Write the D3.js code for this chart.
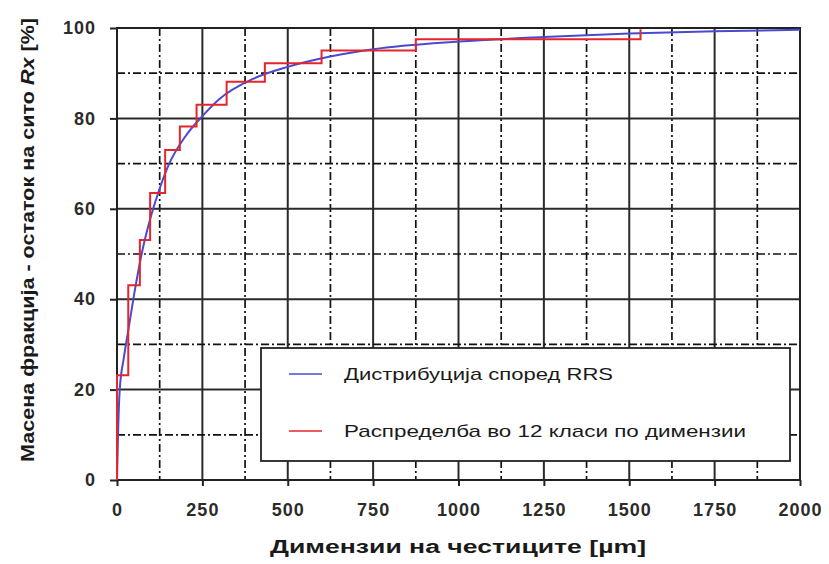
<!DOCTYPE html>
<html>
<head>
<meta charset="utf-8">
<script src="https://cdn.jsdelivr.net/npm/d3@7"></script>
<style>
  html, body { margin: 0; padding: 0; background: #fff; }
  svg { display: block; }
  text { font-family: "Liberation Sans", Arial, sans-serif; }
</style>
</head>
<body>
<svg id="chart" width="829" height="564"></svg>
<script>
// Particle size distribution: RRS curve and 12-class step distribution
const rrsSize    = [0, 3, 8, 20, 35, 50, 75, 100, 125, 150, 200, 250, 300, 400, 500, 600, 750, 1000, 1250, 1500, 1750, 2000];
const rrsPercent = [0, 10, 20, 27, 34, 41, 51, 58.5, 64.5, 69.5, 76, 80.5, 84.3, 88.8, 91.4, 93.3, 95.3, 97, 98, 98.8, 99.3, 99.6];

const classStart   = [0, 0, 33, 67, 97, 141, 184, 233, 321, 433, 599, 875, 1533];
const classPercent = [0, 23.2, 43.1, 53.1, 63.5, 73, 78.2, 83, 88.1, 92.2, 95, 97.5, 99.7];

const xTicks = [0, 250, 500, 750, 1000, 1250, 1500, 1750, 2000];
const yTicks = [0, 20, 40, 60, 80, 100];
const xMinor = [125, 375, 625, 875, 1125, 1375, 1625, 1875];
const yMinor = [10, 30, 50, 70, 90];

const legendLabels = ["Дистрибуција според RRS", "Распределба во 12 класи по димензии"];
const seriesColors = ["#4a4ad0", "#e3262b"];

const svg = d3.select("#chart");
const plotLeft = 117, plotRight = 800, plotTop = 28, plotBottom = 480;

const x = d3.scaleLinear().domain([0, 2000]).range([plotLeft, plotRight]);
const y = d3.scaleLinear().domain([0, 100]).range([plotBottom, plotTop]);

// grid: solid at major steps, dash-dot at the halves
const grid = svg.append("g");
grid.selectAll(".vmaj").data(xTicks).enter().append("line")
  .attr("x1", d => x(d)).attr("x2", d => x(d)).attr("y1", plotTop).attr("y2", plotBottom)
  .attr("stroke", "#2a2a2a").attr("stroke-width", 2);
grid.selectAll(".vmin").data(xMinor).enter().append("line")
  .attr("x1", d => x(d)).attr("x2", d => x(d)).attr("y1", plotTop).attr("y2", plotBottom)
  .attr("stroke", "#111").attr("stroke-width", 1.7).attr("stroke-dasharray", "8,3,2,3");
grid.selectAll(".hmaj").data(yTicks).enter().append("line")
  .attr("x1", plotLeft).attr("x2", plotRight).attr("y1", d => y(d)).attr("y2", d => y(d))
  .attr("stroke", "#2a2a2a").attr("stroke-width", 2);
grid.selectAll(".hmin").data(yMinor).enter().append("line")
  .attr("x1", plotLeft).attr("x2", plotRight).attr("y1", d => y(d)).attr("y2", d => y(d))
  .attr("stroke", "#111").attr("stroke-width", 1.7).attr("stroke-dasharray", "8,3,2,3");

// axes
const xAxis = svg.append("g").attr("transform", `translate(0,${plotBottom})`)
  .call(d3.axisBottom(x).tickValues(xTicks).tickSize(6).tickPadding(17).tickFormat(d3.format("d")));
const yAxis = svg.append("g").attr("transform", `translate(${plotLeft},0)`)
  .call(d3.axisLeft(y).tickValues(yTicks).tickSize(7).tickPadding(14).tickFormat(d3.format("d")));
[xAxis, yAxis].forEach(a => {
  a.select(".domain").remove();
  a.selectAll(".tick line").attr("stroke", "#222").attr("stroke-width", 2);
  a.selectAll(".tick text").attr("font-family", "'Liberation Sans', Arial, sans-serif")
    .attr("font-size", 18).attr("font-weight", "bold").attr("fill", "#2b2b2b")
    .attr("letter-spacing", "1px");
});

// frame
svg.append("rect").attr("x", plotLeft).attr("y", plotTop)
  .attr("width", plotRight - plotLeft).attr("height", plotBottom - plotTop)
  .attr("fill", "none").attr("stroke", "#222").attr("stroke-width", 2);

// series
const rrs = rrsSize.map((s, i) => [s, rrsPercent[i]]);
const classes = classStart.map((s, i) => [s, classPercent[i]]);

svg.append("path").datum(rrs)
  .attr("d", d3.line().x(d => x(d[0])).y(d => y(d[1])).curve(d3.curveMonotoneX))
  .attr("fill", "none").attr("stroke", seriesColors[0]).attr("stroke-width", 2);
svg.append("path").datum(classes)
  .attr("d", d3.line().x(d => x(d[0])).y(d => y(d[1])).curve(d3.curveStepAfter))
  .attr("fill", "none").attr("stroke", seriesColors[1]).attr("stroke-width", 2);

// legend
const lg = svg.append("g");
lg.append("rect").attr("x", 261).attr("y", 348).attr("width", 529).attr("height", 113)
  .attr("fill", "#fff").attr("stroke", "#222").attr("stroke-width", 1.8);
const legendRows = [374, 431];
const legendWidths = [269, 402];
legendLabels.forEach((label, i) => {
  lg.append("line").attr("x1", 289).attr("x2", 322).attr("y1", legendRows[i]).attr("y2", legendRows[i])
    .attr("stroke", seriesColors[i]).attr("stroke-width", 1.6);
  lg.append("text").attr("x", 344).attr("y", legendRows[i] + 6)
    .attr("font-size", 17).attr("fill", "#1a1a1a")
    .attr("textLength", legendWidths[i]).attr("lengthAdjust", "spacingAndGlyphs")
    .text(label);
});

// axis titles
svg.append("text").attr("x", 458).attr("y", 553).attr("text-anchor", "middle")
  .attr("font-size", 18).attr("font-weight", "bold").attr("fill", "#1a1a1a")
  .attr("textLength", 376).attr("lengthAdjust", "spacingAndGlyphs")
  .text("Димензии на честиците [µm]");

const yt = svg.append("text").attr("transform", "translate(34,240) rotate(-90)")
  .attr("text-anchor", "middle").attr("font-size", 18).attr("font-weight", "bold").attr("fill", "#1a1a1a")
  .attr("textLength", 444).attr("lengthAdjust", "spacingAndGlyphs");
yt.append("tspan").text("Масена фракција - остаток на сито ");
yt.append("tspan").attr("font-style", "italic").text("Rx");
yt.append("tspan").text(" [%]");
</script>
</body>
</html>
